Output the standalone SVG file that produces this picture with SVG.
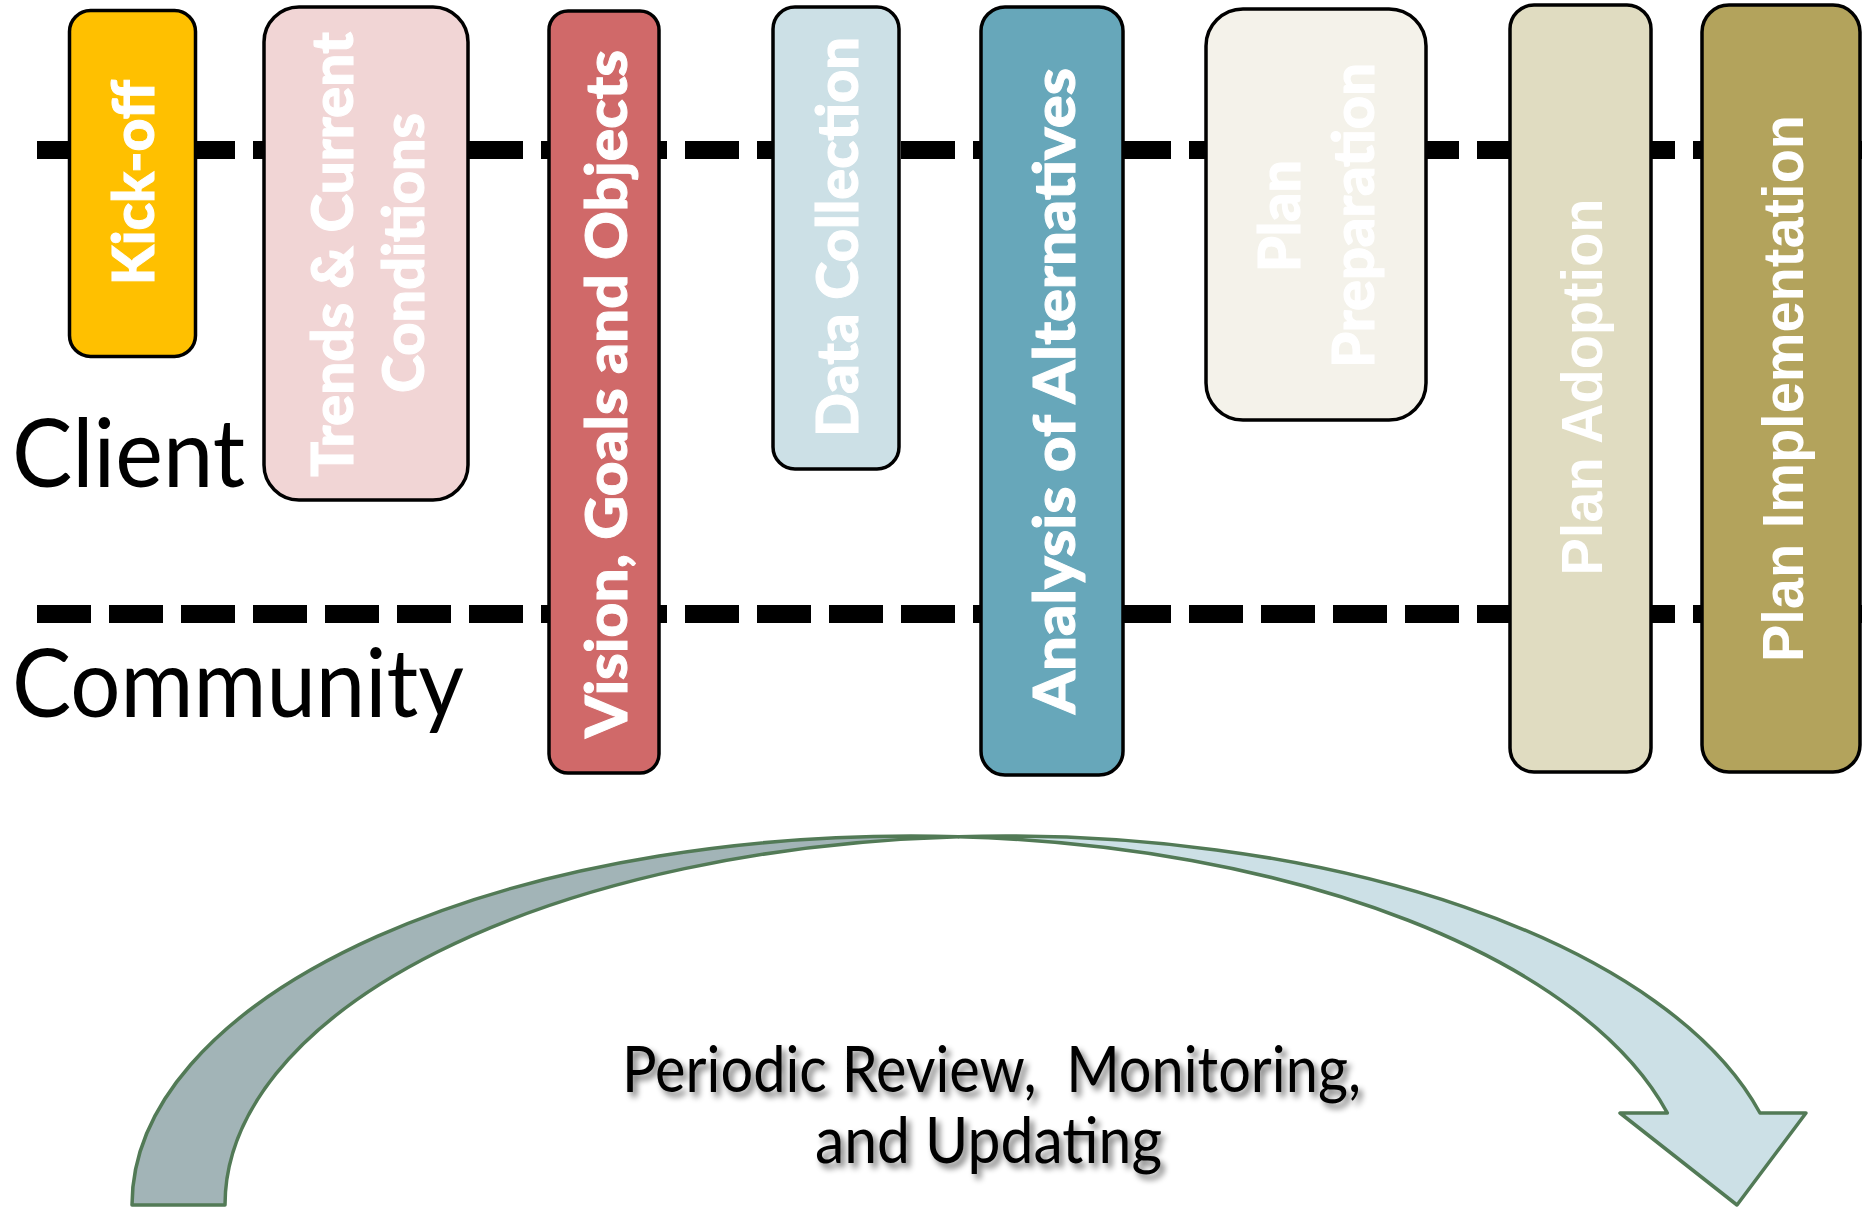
<svg xmlns="http://www.w3.org/2000/svg" width="1865" height="1211" viewBox="0 0 1865 1211">
<defs>
<style>
.box{stroke:#000;stroke-width:3.5}
.lbl{font-family:Lato,"Liberation Sans",sans-serif;font-weight:900;font-size:58px;fill:#fff;stroke:#fff;stroke-width:1;text-anchor:middle}
.lblf{font-family:"Liberation Sans",Arial,sans-serif;font-weight:700;font-size:57px;fill:#fff;text-anchor:middle}
.lane{font-family:Lato,"Liberation Sans",sans-serif;font-size:95px;fill:#000}
.dash{stroke:#000;stroke-width:18;stroke-dasharray:54 18;fill:none}
.arr{stroke:#527A56;stroke-width:3.5;stroke-linejoin:round}
.cap{font-family:Lato,"Liberation Sans",sans-serif;font-size:64px;fill:#000;text-anchor:middle}
</style>
<filter id="shadow" x="-10%" y="-40%" width="120%" height="180%">
<feGaussianBlur in="SourceAlpha" stdDeviation="3"/>
<feOffset dx="4" dy="5"/>
<feComponentTransfer><feFuncA type="linear" slope="0.55"/></feComponentTransfer>
<feMerge><feMergeNode/><feMergeNode in="SourceGraphic"/></feMerge>
</filter>
</defs>

<g id="lanes">
<line class="dash" x1="37" y1="150" x2="1862" y2="150"/>
<line class="dash" x1="37" y1="614" x2="1862" y2="614"/>
</g>

<g id="lane-labels">
<text id="label-client" class="lane" x="12" y="487" textLength="233" lengthAdjust="spacingAndGlyphs">Client</text>
<text id="label-community" class="lane" x="12" y="717" textLength="452" lengthAdjust="spacingAndGlyphs">Community</text>
</g>

<g id="node-kickoff">
<rect class="box" x="69.5" y="10.5" width="126" height="346" rx="21" fill="#FFC000"/>
<text class="lbl" transform="translate(154,182.5) rotate(-90)" textLength="205" lengthAdjust="spacingAndGlyphs">Kick-off</text>
</g>

<g id="node-trends">
<rect class="box" x="264" y="7" width="204" height="493" rx="35" fill="#F1D5D5"/>
<text class="lbl" transform="translate(353,254.5) rotate(-90)" textLength="445" lengthAdjust="spacingAndGlyphs">Trends &amp; Current</text>
<text class="lbl" transform="translate(424,253) rotate(-90)" textLength="280" lengthAdjust="spacingAndGlyphs">Conditions</text>
</g>

<g id="node-vision">
<rect class="box" x="549" y="11" width="110" height="762" rx="19" fill="#D06969"/>
<text class="lbl" transform="translate(627,394) rotate(-90)" textLength="688" lengthAdjust="spacingAndGlyphs">Vision, Goals and Objects</text>
</g>

<g id="node-data">
<rect class="box" x="773" y="7" width="126" height="462" rx="22" fill="#CCE0E6"/>
<text class="lbl" transform="translate(858,237) rotate(-90)" textLength="400" lengthAdjust="spacingAndGlyphs">Data Collection</text>
</g>

<g id="node-analysis">
<rect class="box" x="981" y="7" width="142" height="768" rx="24" fill="#67A7BA"/>
<text class="lbl" transform="translate(1075,391) rotate(-90)" textLength="646" lengthAdjust="spacingAndGlyphs">Analysis of Alternatives</text>
</g>

<g id="node-preparation">
<rect class="box" x="1206" y="9" width="220" height="411" rx="37" fill="#F4F2EA"/>
<text class="lbl" transform="translate(1300,216) rotate(-90)" textLength="112" lengthAdjust="spacingAndGlyphs">Plan</text>
<text class="lbl" transform="translate(1374,215.5) rotate(-90)" textLength="305" lengthAdjust="spacingAndGlyphs">Preparation</text>
</g>

<g id="node-adoption">
<rect class="box" x="1510" y="5" width="141" height="767" rx="24" fill="#E0DCC1"/>
<text class="lblf" transform="translate(1602,387) rotate(-90)" textLength="377" lengthAdjust="spacingAndGlyphs">Plan Adoption</text>
</g>

<g id="node-implementation">
<rect class="box" x="1702" y="5" width="158" height="767" rx="27" fill="#B3A35C"/>
<text class="lblf" transform="translate(1803,388.5) rotate(-90)" textLength="547" lengthAdjust="spacingAndGlyphs">Plan Implementation</text>
</g>

<g id="cycle-arrow">
<path class="arr" fill="#A2B4B7" d="M132,1205 A780 369 0 0 1 958.5,836.7 A780 369 0 0 0 225,1205 Z"/>
<path class="arr" fill="#CCE0E6" d="M958.5,836.7 A780 369 0 0 1 1760,1113 L1806,1113 L1737,1205 L1620,1113 L1667.4,1113 A780 369 0 0 0 958.5,836.7 Z"/>
</g>

<g id="cycle-label" filter="url(#shadow)">
<text class="cap" x="991.5" y="1092" textLength="739" lengthAdjust="spacingAndGlyphs" xml:space="preserve">Periodic Review,  Monitoring,</text>
<text class="cap" x="988.5" y="1163" textLength="347" lengthAdjust="spacingAndGlyphs">and Updating</text>
</g>
</svg>
